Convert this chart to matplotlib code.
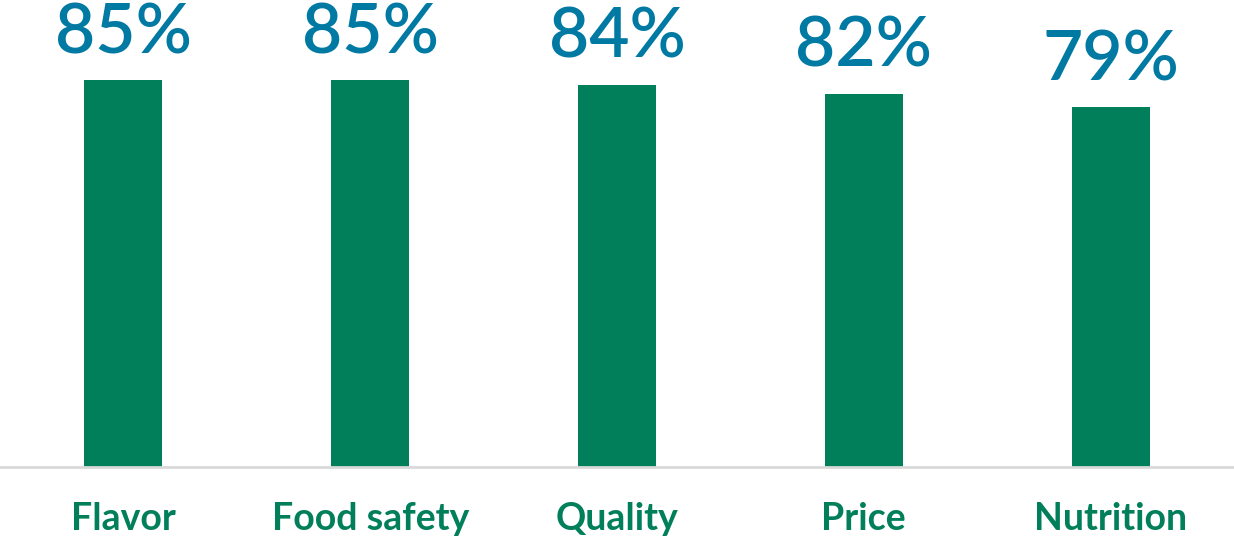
import matplotlib
matplotlib.use("Agg")
import matplotlib.pyplot as plt

# Share of respondents rating each attribute as important
categories = ["Flavor", "Food safety", "Quality", "Price", "Nutrition"]
shares = [85, 85, 84, 82, 79]

BAR_GREEN = "#007F5A"
LABEL_BLUE = "#0079A3"
AXIS_GREY = "#D9D9D9"

plt.rcParams["font.family"] = ["Lato", "DejaVu Sans"]

fig = plt.figure(figsize=(12.34, 5.37), dpi=100)
ax = fig.add_axes([0, 70 / 537, 1, 467 / 537])

x = range(len(categories))
bars = ax.bar(x, shares, width=0.316, color=BAR_GREEN)

for rect, val in zip(bars, shares):
    ax.annotate(f"{val}%", (rect.get_x() + rect.get_width() / 2, val),
                xytext=(0, 19.5), textcoords="offset points",
                ha="center", va="baseline", fontsize=50,
                fontweight="semibold", color=LABEL_BLUE)

ax.set_xlim(-0.5, len(categories) - 0.5)
ax.set_ylim(0, 102.6)
ax.set_xticks(list(x))
ax.set_xticklabels(categories, fontsize=27, fontweight="bold", color=BAR_GREEN)
ax.tick_params(axis="x", length=0, pad=25.5)
ax.set_yticks([])

for side in ("left", "right", "top"):
    ax.spines[side].set_visible(False)
ax.spines["bottom"].set_color(AXIS_GREY)
ax.spines["bottom"].set_linewidth(2)

fig.savefig("out.png", dpi=100)
